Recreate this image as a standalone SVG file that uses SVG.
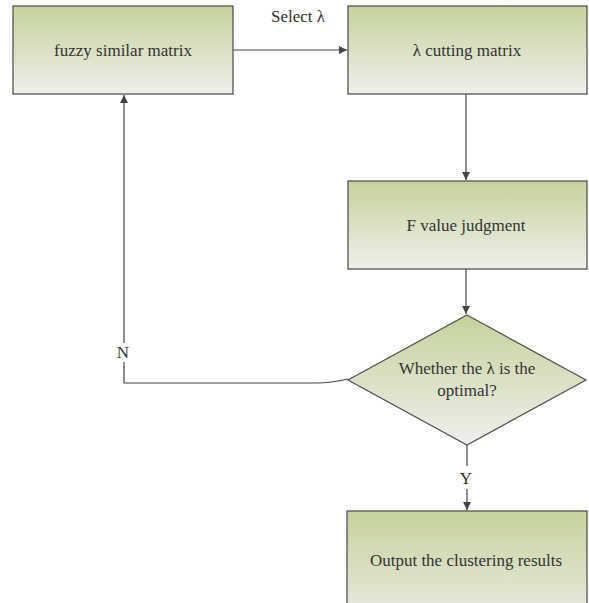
<svg xmlns="http://www.w3.org/2000/svg" width="589" height="603" viewBox="0 0 589 603">
<defs>
<linearGradient id="g" x1="0" y1="0" x2="0" y2="1">
<stop offset="0" stop-color="#c6d29c"/>
<stop offset="1" stop-color="#efefec"/>
</linearGradient>
<linearGradient id="g4" x1="0" y1="0" x2="0" y2="1">
<stop offset="0" stop-color="#c6d29c"/>
<stop offset="1" stop-color="#e6e8dc"/>
</linearGradient>
<marker id="ah" viewBox="0 0 10 10" refX="10" refY="5" markerWidth="8" markerHeight="8" markerUnits="userSpaceOnUse" orient="auto">
<path d="M0,0 L10,5 L0,10 z" fill="#444"/>
</marker>
</defs>
<style>
.box{stroke:#555;stroke-width:1.3;fill:url(#g)}
.t{font-family:"Liberation Serif","Times New Roman",serif;font-size:17px;fill:#333;text-anchor:middle}
.c{fill:none;stroke:#444;stroke-width:1.2}
</style>
<rect width="589" height="603" fill="#fff"/>
<g id="connectors">
<path class="c" d="M233,50 H347" marker-end="url(#ah)"/>
<path class="c" d="M466,94 V180" marker-end="url(#ah)"/>
<path class="c" d="M466,269 V314" marker-end="url(#ah)"/>
<path class="c" d="M348,379 Q330,383 318,383 H124 V362"/>
<path class="c" d="M124,343 V95" marker-end="url(#ah)"/>
<path class="c" d="M467,445 V466"/>
<path class="c" d="M467,489 V510" marker-end="url(#ah)"/>
<text class="t" x="298" y="22">Select λ</text>
<text class="t" x="123" y="358">N</text>
<text class="t" x="466" y="484">Y</text>
</g>
<g id="n1">
<rect class="box" x="13" y="6" width="220" height="88"/>
<text class="t" x="123" y="56">fuzzy similar matrix</text>
</g>
<g id="n2">
<rect class="box" x="348" y="6" width="239" height="88"/>
<text class="t" x="467" y="56">λ cutting matrix</text>
</g>
<g id="n3">
<rect class="box" x="348" y="181" width="239" height="88"/>
<text class="t" x="466" y="231">F value judgment</text>
</g>
<g id="n4">
<path class="box" d="M467,315 L586,380 L467,445 L348,380 z"/>
<text class="t" x="467" y="374">Whether the λ is the</text>
<text class="t" x="467" y="396">optimal?</text>
</g>
<g id="n5">
<rect class="box" x="347" y="511" width="240" height="100" style="fill:url(#g4)"/>
<text class="t" x="466" y="566">Output the clustering results</text>
</g>
</svg>
